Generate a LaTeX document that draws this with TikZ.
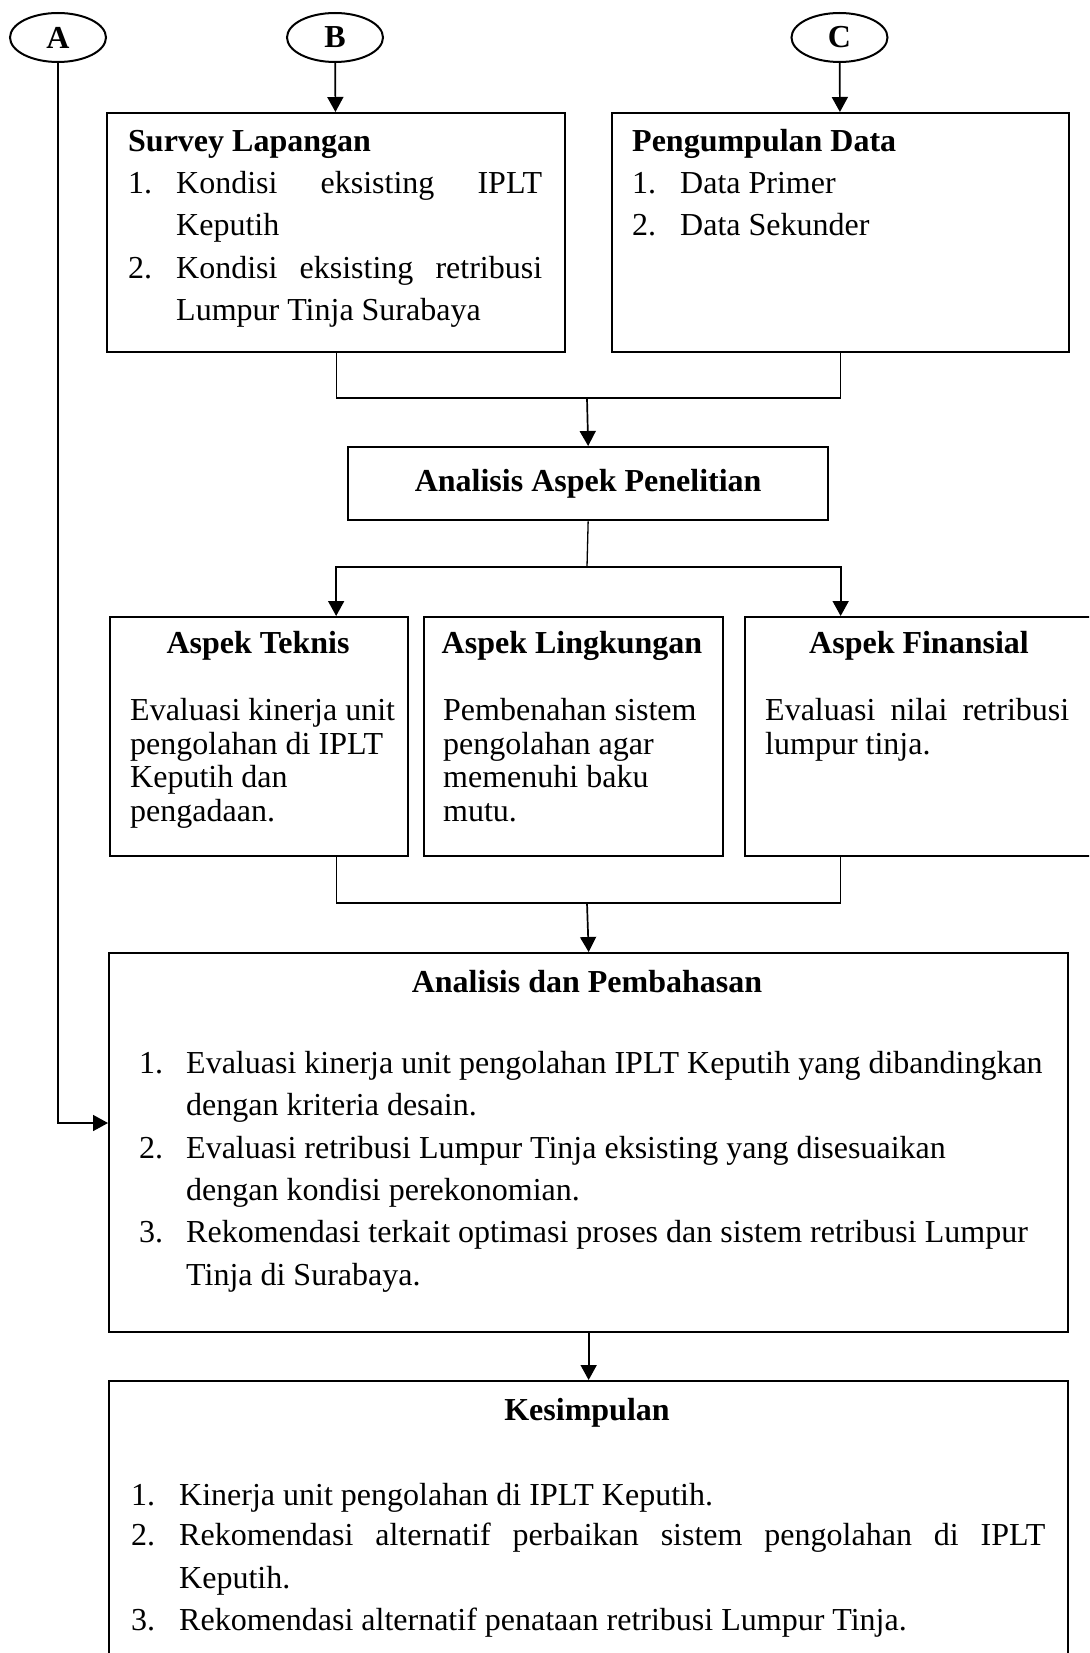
\documentclass[tikz,border=0pt]{standalone}
\usepackage{fontspec}
\setmainfont{Liberation Serif}
\usetikzlibrary{shapes.geometric,arrows.meta}

\tikzset{
  kotak/.style={draw, line width=2.3pt, anchor=north west, inner sep=0pt},
  teks/.style={anchor=base west, inner sep=0pt},
  judul/.style={anchor=base, inner sep=0pt},
  bulat/.style={draw, ellipse, line width=2pt, minimum width=96pt, minimum height=49pt, inner sep=0pt},
  panah/.style={line width=1.7pt, -{Triangle[length=15pt,width=16pt]}},
  garis/.style={line width=1.3pt},
}

\begin{document}
\begin{tikzpicture}[x=1pt, y=-1pt, font=\fontsize{32pt}{42pt}\selectfont]
       \clip (0,0) rectangle (1089,1653);
       % penghubung halaman
       \node[bulat] (A) at (58,37.5) {\textbf{A}};
       \node[bulat] (B) at (335,37.5) {\textbf{B}};
       \node[bulat] (C) at (839.5,37.5) {\textbf{C}};
       % kotak
       \node[kotak, minimum width=458pt, minimum height=239pt] (survey) at (106,112) {};
       \node[kotak, minimum width=457pt, minimum height=239pt] (data) at (611,112) {};
       \node[kotak, minimum width=480pt, minimum height=73pt] (aspek) at (347,446) {\textbf{Analisis Aspek Penelitian}};
       \node[kotak, minimum width=298pt, minimum height=239pt] (teknis) at (109,616) {};
       \node[kotak, minimum width=299pt, minimum height=239pt] (lingkungan) at (423,616) {};
       \node[kotak, minimum width=350pt, minimum height=239pt] (finansial) at (744,616) {};
       \node[kotak, minimum width=959pt, minimum height=379pt] (adp) at (108,952) {};
       \node[kotak, minimum width=959pt, minimum height=400pt] (simpulan) at (108,1380) {};
       % isi survey
       \node[teks] (sv0) at (128,152) {\textbf{Survey Lapangan}};
       \node[teks] (sv1) at (128,194) {1.};
       \node[teks] (sv2) at (176,194) {\makebox[366pt][s]{Kondisi eksisting IPLT}};
       \node[teks] (sv3) at (176,236) {Keputih};
       \node[teks] (sv4) at (128,278) {2.};
       \node[teks] (sv5) at (176,278) {\makebox[366pt][s]{Kondisi eksisting retribusi}};
       \node[teks] (sv6) at (176,320) {Lumpur Tinja Surabaya};
       % isi data
       \node[teks] (dt0) at (632,152) {\textbf{Pengumpulan Data}};
       \node[teks] (dt1) at (632,194) {1.};
       \node[teks] (dt2) at (680,194) {Data Primer};
       \node[teks] (dt3) at (632,236) {2.};
       \node[teks] (dt4) at (680,236) {Data Sekunder};
       % isi aspek
       \node[judul] (tk0) at (258,653) {\textbf{Aspek Teknis}};
       \node[teks] (tk1) at (130,720) {Evaluasi kinerja unit};
       \node[teks] (tk2) at (130,754) {pengolahan di IPLT};
       \node[teks] (tk3) at (130,787) {Keputih dan};
       \node[teks] (tk4) at (130,821) {pengadaan.};
       \node[judul] (lk0) at (572,653) {\textbf{Aspek Lingkungan}};
       \node[teks] (lk1) at (443,720) {Pembenahan sistem};
       \node[teks] (lk2) at (443,754) {pengolahan agar};
       \node[teks] (lk3) at (443,787) {memenuhi baku};
       \node[teks] (lk4) at (443,821) {mutu.};
       \node[judul] (fn0) at (919,653) {\textbf{Aspek Finansial}};
       \node[teks] (fn1) at (765,720) {\makebox[304pt][s]{Evaluasi nilai retribusi}};
       \node[teks] (fn2) at (765,754) {lumpur tinja.};
       % isi analisis dan pembahasan
       \node[judul] (ap0) at (587,992) {\textbf{Analisis dan Pembahasan}};
       \node[teks] (ap1) at (139,1073) {1.};
       \node[teks] (ap2) at (186,1073) {Evaluasi kinerja unit pengolahan IPLT Keputih yang dibandingkan};
       \node[teks] (ap3) at (186,1115) {dengan kriteria desain.};
       \node[teks] (ap4) at (139,1158) {2.};
       \node[teks] (ap5) at (186,1158) {Evaluasi retribusi Lumpur Tinja eksisting yang disesuaikan};
       \node[teks] (ap6) at (186,1200) {dengan kondisi perekonomian.};
       \node[teks] (ap7) at (139,1242) {3.};
       \node[teks] (ap8) at (186,1242) {Rekomendasi terkait optimasi proses dan sistem retribusi Lumpur};
       \node[teks] (ap9) at (186,1285) {Tinja di Surabaya.};
       % isi kesimpulan
       \node[judul] (ks0) at (587,1420) {\textbf{Kesimpulan}};
       \node[teks] (ks1) at (131,1505) {1.};
       \node[teks] (ks2) at (179,1505) {Kinerja unit pengolahan di IPLT Keputih.};
       \node[teks] (ks3) at (131,1545) {2.};
       \node[teks] (ks4) at (179,1545) {\makebox[866pt][s]{Rekomendasi alternatif perbaikan sistem pengolahan di IPLT}};
       \node[teks] (ks5) at (179,1588) {Keputih.};
       \node[teks] (ks6) at (131,1630) {3.};
       \node[teks] (ks7) at (179,1630) {Rekomendasi alternatif penataan retribusi Lumpur Tinja.};
       % garis
       \coordinate (j1) at (587,398);
       \coordinate (j2) at (587,567);
       \coordinate (j3) at (587,903);
       \draw[panah] (B) -- (survey);
       \draw[panah] (C) -- (data);
       \draw[garis] (survey.south) |- (j1) -| (data.south);
       \draw[panah] (j1) -- (aspek.north);
       \draw[garis] (aspek.south) -- (j2);
       \draw[panah] (j2) -| (survey.south |- teknis.north);
       \draw[panah] (j2) -| (data.south |- finansial.north);
       \draw[garis] (survey.south |- teknis.south) |- (j3) -| (data.south |- finansial.south);
       \draw[panah] (j3) -- (adp.north);
       \draw[panah] (A.south) |- ([yshift=-171pt]adp.north west);
       \draw[panah] (adp) -- (simpulan);
\end{tikzpicture}
\end{document}
